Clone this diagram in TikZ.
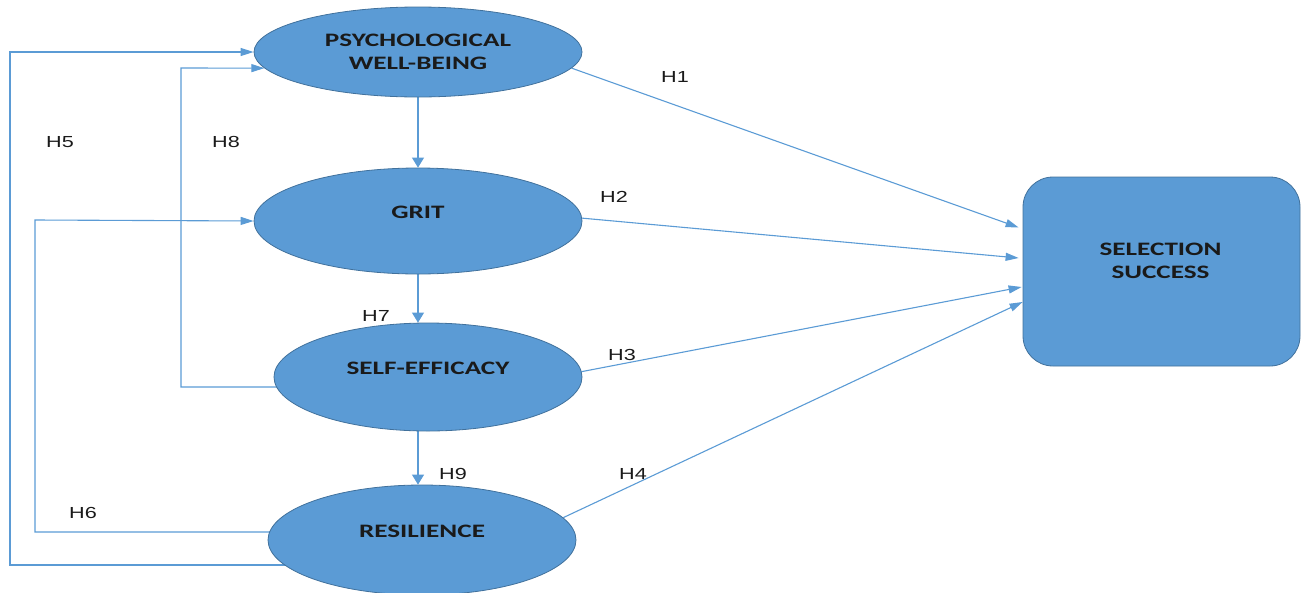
\documentclass[tikz,border=0pt]{standalone}
\usepackage{fontspec}
\usetikzlibrary{shapes.geometric,arrows.meta}
\newfontfamily\nodefont[FakeStretch=1.43]{Carlito}
\newfontfamily\labfont[FakeStretch=1.35]{Liberation Sans}
\definecolor{fillblue}{HTML}{5B9BD5}
\definecolor{edgeblue}{HTML}{41719C}
\definecolor{lineblue}{HTML}{5B9BD5}
\definecolor{txt}{HTML}{1A1A1A}
\pgfdeclarelayer{bg}
\pgfsetlayers{bg,main}
\begin{document}
\begin{tikzpicture}[x=1pt,y=-1pt,
  ell/.style={ellipse, draw=edgeblue, line width=0.8pt, fill=fillblue, inner sep=0pt},
  ntext/.style={font=\nodefont\bfseries\fontsize{19}{23}\selectfont, text=txt, align=center, inner sep=0pt},
  lab/.style={font=\labfont\fontsize{16}{18}\selectfont, text=txt, inner sep=0pt},
  conn/.style={draw=lineblue, line width=1.1pt},
  harr/.style={conn, -{Triangle[length=13pt,width=8pt]}},
  varr/.style={conn, -{Triangle[length=10pt,width=12pt]}},
]
\useasboundingbox (0,0) rectangle (1308,592);
% nodes
\node[ell, minimum width=328pt, minimum height=90pt] (pwb) at (418,52) {};
\node[ell, minimum width=328pt, minimum height=106pt] (grit) at (418,221) {};
\node[ell, minimum width=308pt, minimum height=108pt] (se) at (428,377) {};
\node[ell, minimum width=308pt, minimum height=110pt] (res) at (422,540) {};
\node[draw=edgeblue, line width=0.8pt, fill=fillblue, rounded corners=30pt,
      minimum width=277pt, minimum height=189pt] (box) at (1161.5,271.5) {};
% node texts
\node[ntext] (pwbt) at (pwb.center) {PSYCHOLOGICAL\\WELL-BEING};
\node[ntext] (gritt) at ([yshift=9pt]grit.center) {GRIT};
\node[ntext] (set) at ([yshift=9pt]se.center) {SELF-EFFICACY};
\node[ntext] (rest) at ([yshift=9pt]res.center) {RESILIENCE};
\node[ntext] (boxt) at ([xshift=-1pt,yshift=11pt]box.center) {SELECTION\\SUCCESS};
% labels
\node[lab] (h1) at (675,77) {H1};
\node[lab] (h2) at (614,197) {H2};
\node[lab] (h3) at (622,355) {H3};
\node[lab] (h4) at (633,474) {H4};
\node[lab] (h5) at (60,142) {H5};
\node[lab] (h6) at (83,513) {H6};
\node[lab] (h7) at (376,316) {H7};
\node[lab] (h8) at (226,142) {H8};
\node[lab] (h9) at (453,474) {H9};
% bend coordinates
\coordinate (c5) at (10,52);
\coordinate (c6) at (35,220);
\coordinate (c8) at (181,68);
% connectors
\begin{pgfonlayer}{bg}
\draw[varr] (pwb.south) -- (grit.north);
\draw[varr] (grit.south) -- (grit.south |- se.north);
\draw[varr] (grit.south |- se.south) -- (grit.south |- res.north);
\draw[harr] (pwb.-6) -- ([xshift=-4pt,yshift=44pt]box.west);
\draw[harr] (grit.1) -- ([xshift=-4pt,yshift=13.5pt]box.west);
\draw[harr] (se.2) -- ([xshift=-1pt,yshift=-15.5pt]box.west);
\draw[harr] (res.9) -- ([yshift=-30.5pt]box.west);
\draw[harr] ([yshift=-25pt]res.center) -| (c5) -- (pwb.west);
\draw[harr] ([yshift=8pt]res.center) -| (c6) -- (grit.west);
\draw[harr] ([yshift=-10pt]se.center) -| (c8) -- (pwb.186);
\end{pgfonlayer}
\end{tikzpicture}
\end{document}
